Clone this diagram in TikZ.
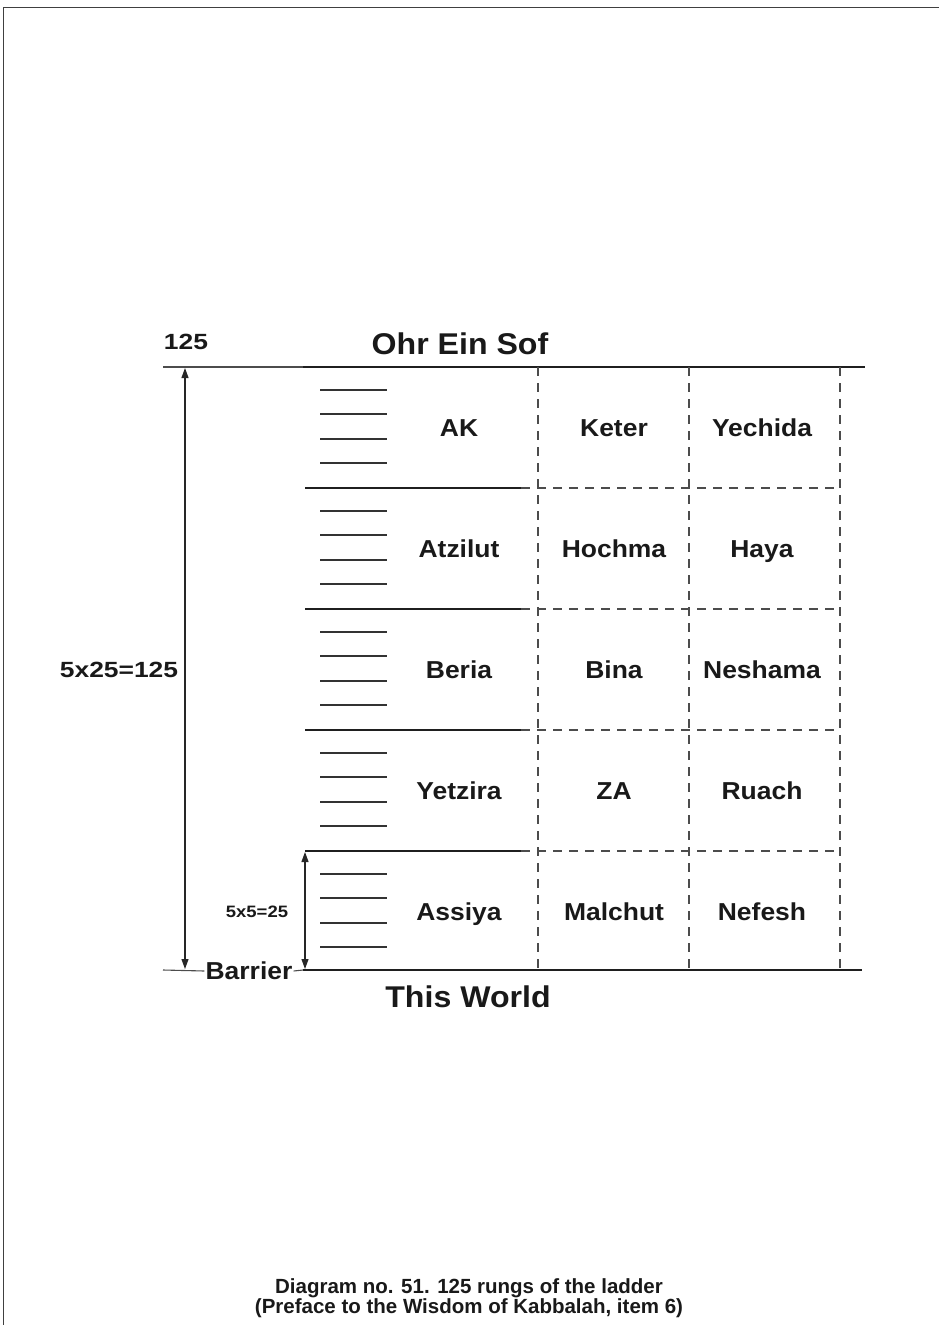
\documentclass[tikz,border=0pt]{standalone}
\usepackage{fontspec}
\usepackage{graphicx}
\setmainfont{Liberation Sans}
\usetikzlibrary{arrows.meta}
\newcommand\hs[2]{\scalebox{#1}[1]{#2}}
\begin{document}
\begin{tikzpicture}[x=1pt,y=-1pt,
  frameline/.style={line width=1pt,draw=black!75},
  thickline/.style={line width=2.6pt,draw=black!88},
  thinline/.style={line width=1.1pt,draw=black!70},
  dashline/.style={line width=1.1pt,draw=black!70,dash pattern=on 9pt off 7pt},
  rungline/.style={line width=1.1pt,draw=black!80},
  dimline/.style={line width=1.1pt,draw=black!85,{Triangle[length=10pt,width=7pt]}-{Triangle[length=10pt,width=7pt]}},
  labtext/.style={font=\fontsize{24.5}{26}\selectfont\bfseries,text=black!90,inner sep=1pt,text height=17.5pt,text depth=0pt},
  bigtext/.style={font=\fontsize{30}{32}\selectfont\bfseries,text=black!90,inner sep=1pt,text height=21.5pt,text depth=0pt},
  smalltext/.style={font=\fontsize{22}{23}\selectfont\bfseries,text=black!90,inner sep=1pt,text height=15.7pt,text depth=0pt},
  tinytext/.style={font=\fontsize{16.5}{18}\selectfont\bfseries,text=black!90,inner sep=1pt,text height=11.8pt,text depth=0pt},
  captext/.style={font=\fontsize{20.5}{21.5}\selectfont\bfseries,text=black!90,align=center,inner sep=0pt}]
\useasboundingbox (0,0) rectangle (939,1325);
% frame
\draw[frameline] (3.5,1325) -- (3.5,7.5) -- (939,7.5);
% top and bottom lines
\coordinate (tl) at (163,367);
\coordinate (ts) at (303,367);
\coordinate (te) at (865,367);
\draw[thinline] (tl) -- (ts);
\draw[thickline] (ts) -- (te);
\coordinate (bs) at (303,970);
\coordinate (be) at (862,970);
\draw[thickline] (bs) -- (be);
% row separators
\foreach \y in {488,609,730,851}{
  \coordinate (rs\y) at (305,\y);
  \coordinate (rm\y) at (521,\y);
  \coordinate (re\y) at (840,\y);
  \draw[thickline] (rs\y) -- (rm\y);
  \draw[dashline] (rm\y) -- (re\y);
}
% dashed verticals
\foreach \x in {538,689,840}{
  \coordinate (vt\x) at (\x,367);
  \coordinate (vb\x) at (\x,970);
  \draw[dashline] (vt\x) -- (vb\x);
}
% rungs
\foreach \t in {367,488,609,730,851}{
  \foreach \d in {23,47,72,96}{
    \coordinate (ra\t\d) at (320,\t+\d);
    \coordinate (rb\t\d) at (387,\t+\d);
    \draw[rungline] (ra\t\d) -- (rb\t\d);
  }
}
% labels
\node[smalltext] (n125) at (186,342) {\hs{1.2}{125}};
\node[bigtext] (ohr) at (460,344) {\hs{1.07}{Ohr Ein Sof}};
\node[bigtext] (world) at (468,997) {\hs{1.07}{This World}};
\node[labtext] (barrier) at (249,971) {\hs{1.08}{Barrier}};
\coordinate (bl) at (163,970);
\draw[thinline] (bl) -- (barrier.west);
\draw[thinline] (barrier.east) -- (bs);
% dimension arrows
\coordinate (at) at (185,368);
\coordinate (ab) at (185,969);
\draw[dimline] (at) -- (ab);
\node[smalltext] (d125) at (119,670) {\hs{1.2}{5x25=125}};
\coordinate (st) at (305,852);
\coordinate (sb) at (305,969);
\draw[dimline] (st) -- (sb);
\node[tinytext] (d25) at (257,912) {\hs{1.12}{5x5=25}};
% cells
\node[labtext] (ak) at (459,428) {\hs{1.08}{AK}};
\node[labtext] (keter) at (614,428) {\hs{1.08}{Keter}};
\node[labtext] (yechida) at (762,428) {\hs{1.08}{Yechida}};
\node[labtext] (atzilut) at (459,549) {\hs{1.08}{Atzilut}};
\node[labtext] (hochma) at (614,549) {\hs{1.08}{Hochma}};
\node[labtext] (haya) at (762,549) {\hs{1.08}{Haya}};
\node[labtext] (beria) at (459,670) {\hs{1.08}{Beria}};
\node[labtext] (bina) at (614,670) {\hs{1.08}{Bina}};
\node[labtext] (neshama) at (762,670) {\hs{1.08}{Neshama}};
\node[labtext] (yetzira) at (459,791) {\hs{1.08}{Yetzira}};
\node[labtext] (za) at (614,791) {\hs{1.08}{ZA}};
\node[labtext] (ruach) at (762,791) {\hs{1.08}{Ruach}};
\node[labtext] (assiya) at (459,912) {\hs{1.08}{Assiya}};
\node[labtext] (malchut) at (614,912) {\hs{1.08}{Malchut}};
\node[labtext] (nefesh) at (762,912) {\hs{1.08}{Nefesh}};
% caption
\node[captext] (caption) at (469,1298) {Diagram no. 51. 125 rungs of the ladder\\[-2pt](Preface to the Wisdom of Kabbalah, item 6)};
\end{tikzpicture}
\end{document}
